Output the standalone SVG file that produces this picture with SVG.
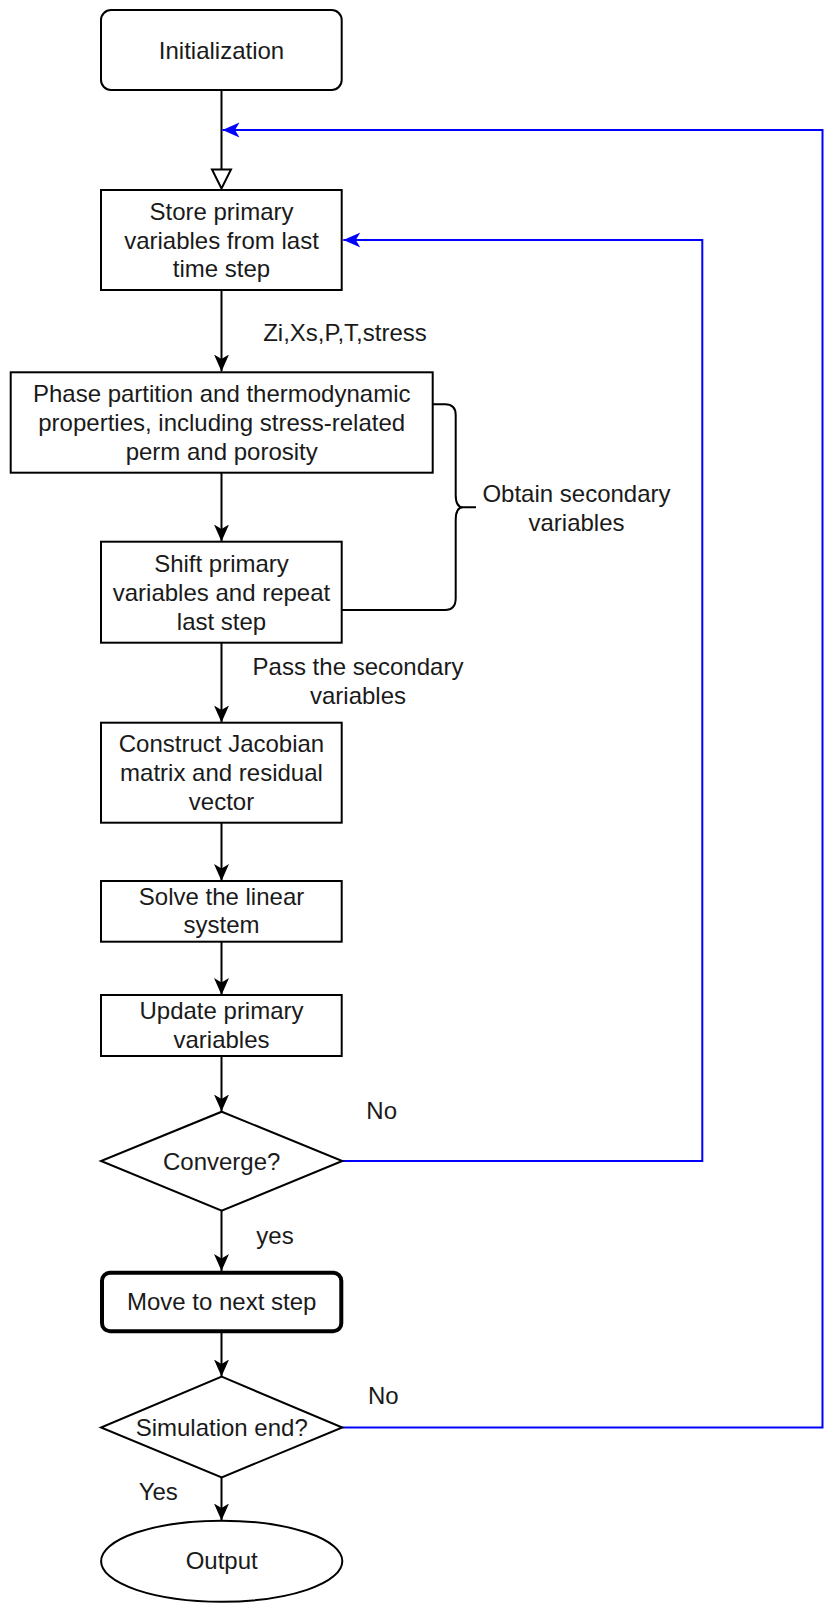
<svg xmlns="http://www.w3.org/2000/svg" width="825" height="1604" viewBox="0 0 825 1604">
<style>
.box{fill:#fff;stroke:#000;stroke-width:2}
.t{font-family:"Liberation Sans",Arial,sans-serif;font-size:24px;fill:#1a1a1a;text-anchor:middle}
.c{fill:none;stroke:#000;stroke-width:2}
.b{fill:none;stroke:#0000ff;stroke-width:2}
</style>
<defs>
<marker id="ak" markerUnits="userSpaceOnUse" markerWidth="20" markerHeight="20" refX="17" refY="7.5" orient="auto">
<path d="M0,0 L17,7.5 L0,15 L4.5,7.5 Z" fill="#000"/>
</marker>
<marker id="ab" markerUnits="userSpaceOnUse" markerWidth="20" markerHeight="20" refX="17" refY="7.5" orient="auto">
<path d="M0,0 L17,7.5 L0,15 L4.5,7.5 Z" fill="#0000ff"/>
</marker>
</defs>
<rect width="825" height="1604" fill="#fff"/>
<g id="connectors">
<path class="c" d="M221.5,90 L221.5,169.5"/>
<polygon points="212,169.5 231,169.5 221.5,188.5" fill="#fff" stroke="#000" stroke-width="2"/>
<path class="c" d="M221.5,290 L221.5,371.5" marker-end="url(#ak)"/>
<path class="c" d="M221.5,472.5 L221.5,541.5" marker-end="url(#ak)"/>
<path class="c" d="M221.5,642.5 L221.5,722.5" marker-end="url(#ak)"/>
<path class="c" d="M221.5,822.5 L221.5,881" marker-end="url(#ak)"/>
<path class="c" d="M221.5,941.5 L221.5,995" marker-end="url(#ak)"/>
<path class="c" d="M221.5,1056 L221.5,1111.5" marker-end="url(#ak)"/>
<path class="c" d="M221.5,1210.5 L221.5,1271" marker-end="url(#ak)"/>
<path class="c" d="M221.5,1333 L221.5,1376.5" marker-end="url(#ak)"/>
<path class="c" d="M221.5,1477.5 L221.5,1520.5" marker-end="url(#ak)"/>
<path class="b" d="M342.3,1161 L702.3,1161 L702.3,240 L343.3,240" marker-end="url(#ab)"/>
<path class="b" d="M342.3,1427.5 L822.5,1427.5 L822.5,130 L222.5,130" marker-end="url(#ab)"/>
<path class="c" d="M432.7,404.3 L445,404.3 Q455.7,404.3 455.7,415 L455.7,495 Q455.7,507.3 463,507.3 L476,507.3 M463,507.3 Q455.7,507.3 455.7,520 L455.7,598 Q455.7,610 445,610 L341.7,610"/>
<text class="t" x="345" y="341">Zi,Xs,P,T,stress</text>
<text class="t" x="576.5" y="502">Obtain secondary</text>
<text class="t" x="576.5" y="531">variables</text>
<text class="t" x="358" y="675">Pass the secondary</text>
<text class="t" x="358" y="704">variables</text>
<text class="t" x="381.7" y="1118.5">No</text>
<text class="t" x="275" y="1243.5">yes</text>
<text class="t" x="383.3" y="1404">No</text>
<text class="t" x="158.3" y="1500">Yes</text>
</g>
<g id="init">
<rect class="box" x="101" y="10" width="240.7" height="80" rx="10"/>
<text class="t" x="221.5" y="58.5">Initialization</text>
</g>
<g id="store">
<rect class="box" x="101" y="190" width="240.7" height="100"/>
<text class="t" x="221.5" y="220">Store primary</text>
<text class="t" x="221.5" y="248.5">variables from last</text>
<text class="t" x="221.5" y="277">time step</text>
</g>
<g id="phase">
<rect class="box" x="10.7" y="372.3" width="422" height="100.4"/>
<text class="t" x="221.7" y="402.2">Phase partition and thermodynamic</text>
<text class="t" x="221.7" y="431">properties, including stress-related</text>
<text class="t" x="221.7" y="459.8">perm and porosity</text>
</g>
<g id="shift">
<rect class="box" x="101" y="541.7" width="240.7" height="101"/>
<text class="t" x="221.5" y="571.9">Shift primary</text>
<text class="t" x="221.5" y="600.7">variables and repeat</text>
<text class="t" x="221.5" y="629.5">last step</text>
</g>
<g id="construct">
<rect class="box" x="101" y="722.7" width="240.7" height="100"/>
<text class="t" x="221.5" y="752.4">Construct Jacobian</text>
<text class="t" x="221.5" y="781.2">matrix and residual</text>
<text class="t" x="221.5" y="810">vector</text>
</g>
<g id="solve">
<rect class="box" x="101" y="881" width="240.7" height="60.7"/>
<text class="t" x="221.5" y="904.5">Solve the linear</text>
<text class="t" x="221.5" y="933.3">system</text>
</g>
<g id="update">
<rect class="box" x="101" y="995" width="240.7" height="61"/>
<text class="t" x="221.5" y="1019">Update primary</text>
<text class="t" x="221.5" y="1047.8">variables</text>
</g>
<g id="converge">
<polygon class="box" points="221.7,1111.7 342.3,1161 221.7,1210.7 101,1161"/>
<text class="t" x="221.7" y="1169.5">Converge?</text>
</g>
<g id="move">
<rect x="102" y="1272.7" width="239.3" height="58.6" rx="8" fill="#fff" stroke="#000" stroke-width="4"/>
<text class="t" x="221.7" y="1310">Move to next step</text>
</g>
<g id="simend">
<polygon class="box" points="221.7,1376.7 342.3,1427.5 221.7,1477.3 101,1427.5"/>
<text class="t" x="221.7" y="1435.5">Simulation end?</text>
</g>
<g id="output">
<ellipse class="box" cx="221.7" cy="1561.2" rx="120.6" ry="40.5"/>
<text class="t" x="221.7" y="1569">Output</text>
</g>
</svg>
